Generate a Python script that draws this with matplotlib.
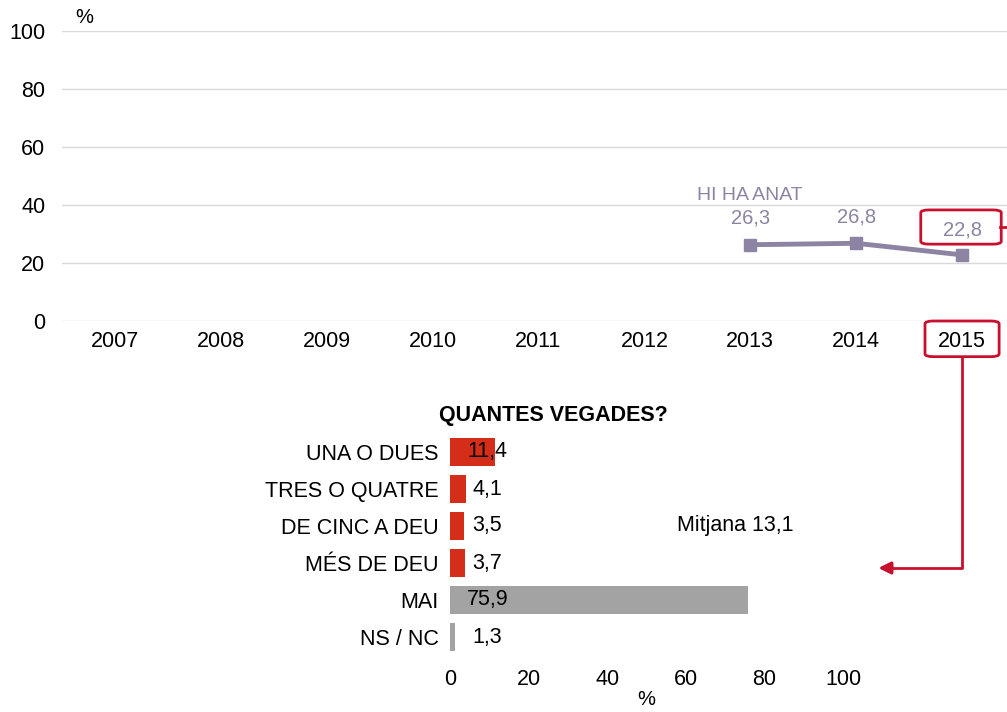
import matplotlib
matplotlib.use("Agg")
import matplotlib.pyplot as plt
from matplotlib.patches import FancyBboxPatch
from matplotlib.lines import Line2D

plt.rcParams['font.family'] = ['Liberation Sans', 'DejaVu Sans']

# data
years = ['2007', '2008', '2009', '2010', '2011', '2012', '2013', '2014', '2015']
anat_years = ['2013', '2014', '2015']
anat_vals = [26.3, 26.8, 22.8]

cats = ['UNA O DUES', 'TRES O QUATRE', 'DE CINC A DEU', 'MÉS DE DEU', 'MAI', 'NS / NC']
cat_vals = [11.4, 4.1, 3.5, 3.7, 75.9, 1.3]
mitjana = 13.1

RED = '#C8102E'
BAR_RED = '#D42E1A'
GREY = '#A3A3A3'
LINE = '#8C84A2'
FS = 15.5
W, H = 1007, 712

fig = plt.figure(figsize=(W / 100, H / 100), dpi=100)

# ---- top line chart ----
ax = fig.add_axes([62 / W, (H - 321) / H, (1015 - 62) / W, 290 / H])
xpos = [years.index(y) for y in anat_years]
ax.plot(xpos, anat_vals, color=LINE, lw=3.5, marker='s', ms=8,
        solid_joinstyle='round', zorder=3)
ax.set_xlim(-0.5, len(years) - 0.5)
ax.set_ylim(0, 100)
ax.set_yticks(range(0, 101, 20))
ax.set_xticks(range(len(years)))
ax.set_xticklabels(years)
ax.grid(axis='y', color='#D9D9D9', lw=1)
ax.set_axisbelow(True)
for s in ax.spines.values():
    s.set_visible(False)
ax.tick_params(length=0, labelsize=FS, colors='black', pad=7)
ax.tick_params(axis='y', pad=12)
ax.text(0.014, 1.015, '%', transform=ax.transAxes, fontsize=FS - 1, va='bottom')

for x, v in zip(xpos[:2], anat_vals[:2]):
    ax.text(x, v + 5.8, f'{v:.1f}'.replace('.', ','), color=LINE,
            fontsize=FS - 1, ha='center', va='bottom')
ax.text(xpos[0], 40.2, 'HI HA ANAT', color=LINE, fontsize=FS - 1.5,
        ha='center', va='bottom')
ax.text(xpos[2], 31.4, f'{anat_vals[2]:.1f}'.replace('.', ','), color=LINE,
        fontsize=FS - 1, ha='center', va='center')

# highlight boxes
ax.add_patch(FancyBboxPatch((xpos[2] - 0.39, 26.5), 0.76, 11.8,
                            boxstyle='round,pad=0,rounding_size=0.08',
                            mutation_aspect=12, fill=False, ec=RED, lw=2,
                            clip_on=False, zorder=4))
ax.add_patch(FancyBboxPatch((xpos[2] - 0.35, -12.3), 0.70, 12.3,
                            boxstyle='round,pad=0,rounding_size=0.08',
                            mutation_aspect=12, fill=False, ec=RED, lw=2,
                            clip_on=False, zorder=4))
fig.add_artist(Line2D([1000 / W, 1.0], [(H - 227) / H] * 2, color=RED, lw=2))
fig.add_artist(Line2D([962 / W, 962 / W, 890 / W],
                      [(H - 357) / H, (H - 568) / H, (H - 568) / H],
                      color=RED, lw=2))
fig.add_artist(plt.annotate('', xy=(876 / W, (H - 568) / H),
                            xytext=(895 / W, (H - 568) / H),
                            xycoords='figure fraction',
                            arrowprops=dict(arrowstyle='-|>', color=RED,
                                            lw=2, mutation_scale=18)))

# ---- bottom bar chart ----
bx = fig.add_axes([450 / W, (H - 655.5) / H, 393 / W, 222 / H])
colors = [BAR_RED] * 4 + [GREY] * 2
bx.barh(range(len(cats)), cat_vals, height=0.76, color=colors)
bx.set_xlim(0, 100)
bx.set_ylim(len(cats) - 0.5, -0.5)
bx.set_yticks(range(len(cats)))
bx.set_yticklabels(cats)
bx.set_xticks(range(0, 101, 20))
for s in bx.spines.values():
    s.set_visible(False)
bx.tick_params(length=0, labelsize=FS, colors='black')
bx.tick_params(axis='x', pad=10)
bx.tick_params(axis='y', pad=8)
for i, v in enumerate(cat_vals):
    bx.text(9.5, i, f'{v:.1f}'.replace('.', ','), fontsize=FS,
            ha='center', va='center')
bx.set_xlabel('%', fontsize=FS - 1, labelpad=0)
bx.set_title('QUANTES VEGADES?', fontsize=FS, fontweight='bold',
             x=0.263, pad=9)
fig.text(735 / W, (H - 525) / H, f'Mitjana {mitjana:.1f}'.replace('.', ','),
         fontsize=FS, ha='center', va='center')

fig.savefig('out.png', dpi=100)
